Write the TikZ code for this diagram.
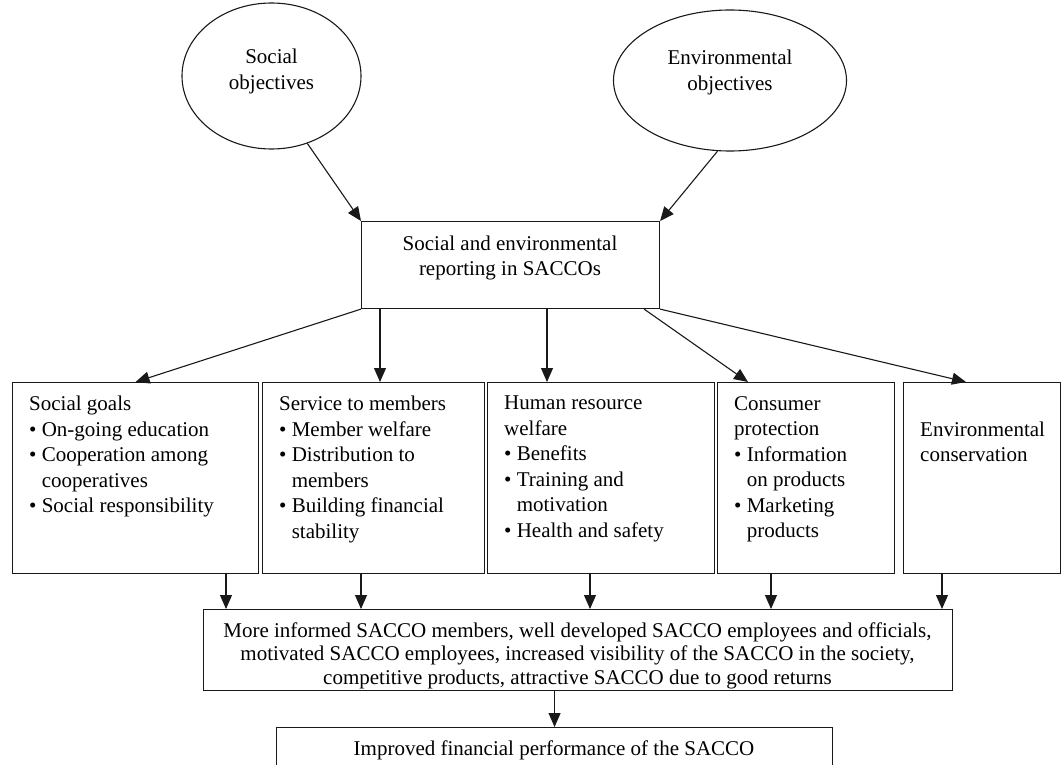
\documentclass[tikz,border=0pt]{standalone}
\usepackage{fontspec}
\setmainfont{Liberation Serif}
\usetikzlibrary{arrows.meta,shapes.geometric}

\tikzset{
  box/.style={draw=black!90, line width=1.1pt, inner sep=0pt, anchor=north west},
  obj/.style={ellipse, draw=black!90, line width=1.1pt, inner sep=0pt},
  txt/.style={inner sep=0pt, font=\fontsize{21}{25.5}\selectfont, align=left},
  arr/.style={-{Triangle[length=14pt,width=12pt]}, line width=1.1pt, draw=black!90},
}
\newcommand{\bul}{\textbullet\ }
\newcommand{\ind}{\phantom{\textbullet\ }}

\begin{document}
\begin{tikzpicture}[x=1pt,y=-1pt]
  \useasboundingbox (0,0) rectangle (1061,765);
  % Objetivos (elipses)
  \node[obj, minimum width=179pt, minimum height=146pt] (socobj) at (271.5,76) {};
  \node[obj, minimum width=233pt, minimum height=141pt] (envobj) at (730,80.5) {};
  \node[txt, align=center, anchor=north] at (271.5,49) {Social\\objectives};
  \node[txt, align=center, anchor=north] at (730,50) {Environmental\\objectives};
  % Caixa central do relato
  \node[box, minimum width=298pt, minimum height=87pt] (report) at (361,221) {};
  \node[txt, align=center, anchor=north, font=\fontsize{21}{25}\selectfont] at (510,235.7)
    {Social and environmental\\reporting in SACCOs};
  % Cinco caixas das dimensoes
  \node[box, minimum width=246pt, minimum height=191pt] (goals) at (12,382) {};
  \node[box, minimum width=222pt, minimum height=191pt] (service) at (262,382) {};
  \node[box, minimum width=227pt, minimum height=191pt] (hr) at (487,382) {};
  \node[box, minimum width=177pt, minimum height=191pt] (consumer) at (717,382) {};
  \node[box, minimum width=157pt, minimum height=191pt] (conserv) at (903,382) {};
  \node[txt, anchor=north west] at (29,396) {Social goals\\
    \bul On-going education\\
    \bul Cooperation among\\
    \ind cooperatives\\
    \bul Social responsibility};
  \node[txt, anchor=north west] at (279,396) {Service to members\\
    \bul Member welfare\\
    \bul Distribution to\\
    \ind members\\
    \bul Building financial\\
    \ind stability};
  \node[txt, anchor=north west] at (504,396) {Human resource\\
    welfare\\
    \bul Benefits\\
    \bul Training and\\
    \ind motivation\\
    \bul Health and safety};
  \node[txt, anchor=north west] at (734,396) {Consumer\\
    protection\\
    \bul Information\\
    \ind on products\\
    \bul Marketing\\
    \ind products};
  \node[txt, anchor=north west] at (920,421.5) {Environmental\\conservation};
  % Resultados e desempenho
  \node[box, minimum width=749pt, minimum height=81pt] (outcome) at (203,609) {};
  \node[txt, align=center, anchor=north, font=\fontsize{21}{23.3}\selectfont] at (577.5,622.7)
    {More informed SACCO members, well developed SACCO employees and officials,\\
     motivated SACCO employees, increased visibility of the SACCO in the society,\\
     competitive products, attractive SACCO due to good returns};
  \node[box, minimum width=556pt, minimum height=39pt] (perf) at (276,727) {};
  \node[txt, anchor=north] at (554,741) {Improved financial performance of the SACCO};
  % Setas
  \draw[arr] (socobj.298) -- (report.north west);
  \draw[arr] (envobj.260) -- (report.north east);
  \draw[arr] (report.south west) -- (goals.north);
  \draw[arr] ([xshift=118pt]service.north west |- report.south) -- ([xshift=118pt]service.north west);
  \draw[arr] ([xshift=60pt]hr.north west |- report.south) -- ([xshift=60pt]hr.north west);
  \draw[arr] ([xshift=-16pt]report.south east) -- ([xshift=31pt]consumer.north west);
  \draw[arr] (report.south east) -- ([xshift=63pt]conserv.north west);
  \foreach \b/\dx in {goals/214, service/99, hr/103, consumer/54, conserv/39}
    \draw[arr] ([xshift=\dx pt]\b.south west) -- ([xshift=\dx pt]\b.south west |- outcome.north);
  \draw[arr] (outcome.south -| perf.north) -- (perf.north);
\end{tikzpicture}
\end{document}
